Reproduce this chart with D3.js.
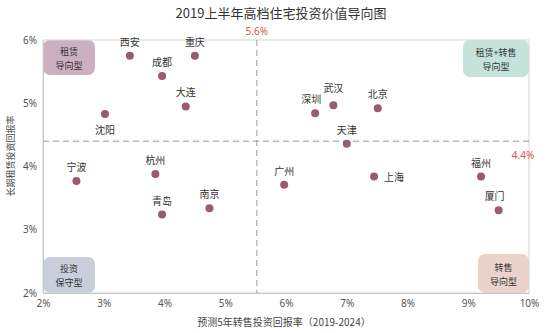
<!DOCTYPE html>
<html><head><meta charset="utf-8">
<script src="https://cdnjs.cloudflare.com/ajax/libs/d3/7.8.5/d3.min.js"></script>
<style>
body{margin:0;background:#fff;}
text{font-family:"Noto Sans CJK SC","Noto Sans",sans-serif;}
</style></head>
<body><svg id="c" width="550" height="333"></svg>
<script>
const cities = ["西安","重庆","成都","大连","沈阳","宁波","杭州","青岛","南京","深圳","武汉","北京","天津","广州","上海","福州","厦门"];
const resaleReturn = [3.43,4.50,3.96,4.35,3.02,2.55,3.85,3.96,4.74,6.48,6.78,7.51,7.00,5.97,7.45,9.21,9.50];
const rentalReturn = [5.75,5.75,5.43,4.95,4.83,3.77,3.88,3.24,3.34,4.84,4.97,4.92,4.36,3.71,3.84,3.84,3.31];
const xTicks = [2,3,4,5,6,7,8,9,10];
const yTicks = [2,3,4,5,6];
const refX = 5.52, refXLabel = "5.6%";
const refY = 4.4, refYLabel = "4.4%";
const quadrants = ["租赁|导向型","租赁+转售|导向型","投资|保守型","转售|导向型"];
const title = "2019上半年高档住宅投资价值导向图";
const xTitle = "预测5年转售投资回报率（2019-2024）";
const yTitle = "长期租赁投资回报率";

// label placement hints (style only)
const labelPlace = {"沈阳":"below","上海":"right","深圳":"aboveLeft","武汉":"aboveHigh","厦门":"aboveLeft"};

const svg = d3.select("#c");
const L=43,R=529,T=40,B=293;
const x = d3.scaleLinear().domain([2,10]).range([L,R]);
const y = d3.scaleLinear().domain([2,6]).range([B,T]);

svg.append("text").attr("x",281).attr("y",18).attr("text-anchor","middle")
  .attr("font-size",13).attr("fill","#333").text(title);

// quadrant boxes
const qb = [
  {x0:L,x1:95,y0:T,y1:75,fill:"#cdb0c0"},
  {x0:463,x1:R,y0:T,y1:77,fill:"#c4e3db"},
  {x0:L,x1:95,y0:257,y1:B,fill:"#c9cfda"},
  {x0:478,x1:R,y0:254,y1:B,fill:"#ebd3cb"}
];
qb.forEach((b,i)=>{
  svg.append("rect").attr("x",b.x0).attr("y",b.y0).attr("width",b.x1-b.x0).attr("height",b.y1-b.y0)
    .attr("rx",7).attr("fill",b.fill);
  const lines = quadrants[i].split("|");
  const cx=(b.x0+b.x1)/2, cy=(b.y0+b.y1)/2;
  lines.forEach((s,j)=>{
    svg.append("text").attr("x",cx).attr("y",cy+(j-0.5)*14+4).attr("text-anchor","middle")
      .attr("font-size",9).attr("fill","#333").text(s);
  });
});

// frame
svg.append("rect").attr("x",L).attr("y",T).attr("width",R-L).attr("height",B-T)
  .attr("fill","none").attr("stroke","#d4d4d4").attr("stroke-width",1);

// axes
const xa = svg.append("g").attr("transform",`translate(0,${B})`)
  .call(d3.axisBottom(x).tickValues(xTicks).tickFormat(d=>d+"%").tickSize(0).tickPadding(7));
xa.select(".domain").attr("stroke","#c8c8c8");
xa.selectAll("text").attr("font-size",10).attr("fill","#555").style("font-family","'Noto Sans',sans-serif");
const ya = svg.append("g").attr("transform",`translate(${L},0)`)
  .call(d3.axisLeft(y).tickValues(yTicks).tickFormat(d=>d+"%").tickSize(0).tickPadding(6));
ya.select(".domain").attr("stroke","#c8c8c8");
ya.selectAll("text").attr("font-size",10).attr("fill","#555").style("font-family","'Noto Sans',sans-serif");

svg.append("text").attr("x",284).attr("y",326).attr("text-anchor","middle")
  .attr("font-size",10).attr("fill","#444").text(xTitle);
svg.append("text").attr("transform","translate(14,156) rotate(-90)").attr("text-anchor","middle")
  .attr("font-size",9).attr("fill","#444").text(yTitle);

// reference lines
svg.append("line").attr("x1",x(refX)).attr("x2",x(refX)).attr("y1",T).attr("y2",B)
  .attr("stroke","#9a9a9a").attr("stroke-dasharray","6,4");
svg.append("line").attr("x1",L).attr("x2",R).attr("y1",y(refY)).attr("y2",y(refY))
  .attr("stroke","#9a9a9a").attr("stroke-dasharray","6,4");
svg.append("text").attr("x",x(refX)).attr("y",35).attr("text-anchor","middle")
  .attr("font-size",10).attr("fill","#d9534f").style("font-family","'Noto Sans',sans-serif").text(refXLabel);
svg.append("text").attr("x",523).attr("y",159).attr("text-anchor","middle")
  .attr("font-size",10).attr("fill","#d9534f").style("font-family","'Noto Sans',sans-serif").text(refYLabel);

// points
const data = cities.map((c,i)=>({c,x:resaleReturn[i],y:rentalReturn[i]}));
svg.selectAll("circle.p").data(data).enter().append("circle").attr("class","p")
  .attr("cx",d=>x(d.x)).attr("cy",d=>y(d.y)).attr("r",4).attr("fill","#9a5a72");
const lx = d=>{const p=labelPlace[d.c]; return p==="right"? x(d.x)+10 : p==="aboveLeft"? x(d.x)-4 : x(d.x);};
const ly = d=>{const p=labelPlace[d.c]; return p==="below"? y(d.y)+20 : p==="right"? y(d.y)+4 : p==="aboveHigh"? y(d.y)-13 : y(d.y)-10;};
svg.selectAll("text.l").data(data).enter().append("text").attr("class","l")
  .attr("x",lx).attr("y",ly)
  .attr("text-anchor",d=>labelPlace[d.c]==="right"?"start":"middle")
  .attr("font-size",10).attr("fill","#333").text(d=>d.c);
</script></body></html>
